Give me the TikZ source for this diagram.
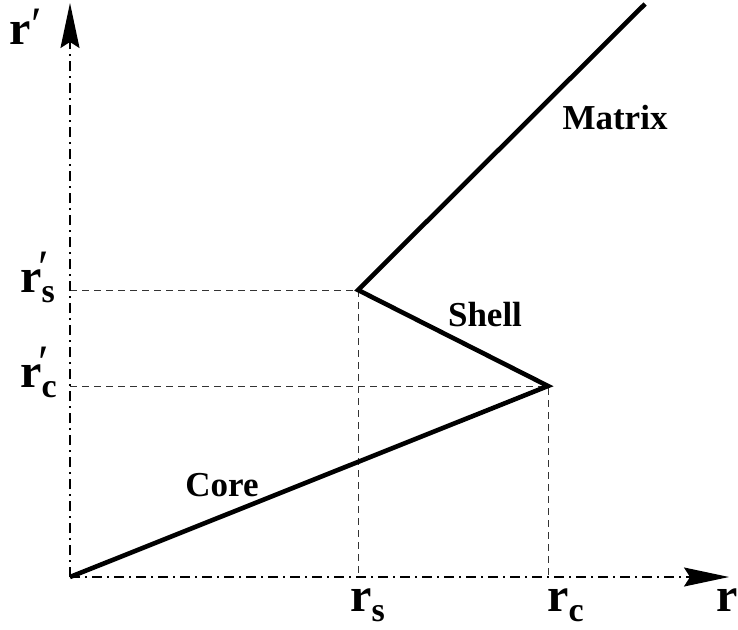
\documentclass[tikz,border=0pt]{standalone}
\usepackage{fontspec}
\usepackage{graphicx}
\setmainfont{Liberation Serif}
\usetikzlibrary{arrows.meta}
\newcommand{\subfnt}{\fontsize{34}{34}\selectfont\bfseries}
\newcommand{\prm}{\rlap{\hspace{-3pt}\raisebox{9pt}{\mdseries ′}}}
\newcommand{\rlab}[2]{\textbf{r}#2\rlap{\raisebox{-10pt}{\subfnt #1}}\phantom{\subfnt #1}}
\begin{document}
\begin{tikzpicture}[x=1pt,y=-1pt,
  axis/.style={line width=1.6pt, dash pattern=on 10pt off 5pt on 2pt off 5pt},
  guide/.style={line width=0.9pt, dash pattern=on 7pt off 5pt, black!80},
  curve/.style={line width=4.6pt, line join=miter},
  lab/.style={font=\fontsize{35}{35}\selectfont\bfseries, inner sep=0pt},
  axlab/.style={font=\fontsize{48}{48}\selectfont, inner sep=0pt, anchor=base west}]
\useasboundingbox (0,0) rectangle (738,629);
\coordinate (O) at (70,577);
\coordinate (S) at (358,290);
\coordinate (C) at (548,386);
\coordinate (M) at (645,4);
\coordinate (XE) at (729,577);
\coordinate (YE) at (70,3);
\coordinate (SY) at (70,290);
\coordinate (SX) at (358,577);
\coordinate (CY) at (70,386);
\coordinate (CX) at (548,577);
\draw[guide] (SY) -- (S) -- (SX);
\draw[guide] (CY) -- (C) -- (CX);
\draw[axis, -{Stealth[length=45pt,width=19pt,inset=6pt]}] (O) -- (XE);
\draw[axis, -{Stealth[length=45pt,width=19pt,inset=6pt]}] (O) -- (YE);
\draw[curve] (O) -- (C) -- (S) -- (M);
\node[lab] (matrix) at (615,118) {Matrix};
\node[lab] (shell) at (485,315) {Shell};
\node[lab] (core) at (222,485) {Core};
\node[axlab] (ry) at (9,44) {\textbf{r}\hspace{1pt}\raisebox{4pt}{\mdseries ′}};
\node[axlab] (rsy) at (20,292) {\rlab{s}{\prm}};
\node[axlab] (rcy) at (20,387) {\rlab{c}{\prm}};
\node[axlab] (rsx) at (350,611) {\rlab{s}{}};
\node[axlab] (rcx) at (547,611) {\rlab{c}{}};
\node[axlab] (rx) at (716,611) {\textbf{r}};
\end{tikzpicture}
\end{document}
